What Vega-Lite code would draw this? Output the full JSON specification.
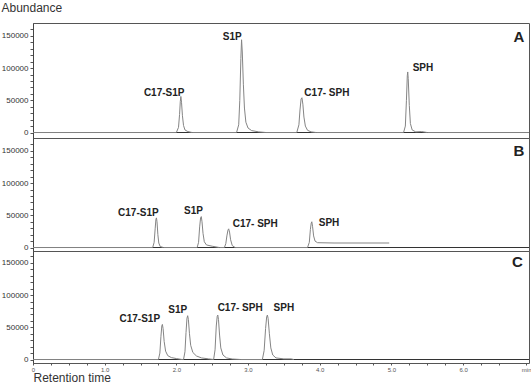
{
  "$schema": "https://vega.github.io/schema/vega-lite/v6.json",
  "padding": 0,
  "spacing": 0,
  "bounds": "flush",
  "background": "white",
  "config": {
    "view": {"stroke": "#555", "strokeWidth": 1},
    "concat": {"spacing": 0},
    "font": "Liberation Sans",
    "axis": {"grid": false, "labelFont": "Liberation Sans", "titleFont": "Liberation Sans", "labelColor": "#333", "tickColor": "#555", "domainColor": "#444"}
  },
  "datasets": {
    "baseline": [
      {"t": 0, "abundance": 0},
      {"t": 6.92, "abundance": 0}
    ],
    "trace": [
      {"panel": "A", "t": 0, "abundance": 0},
      {"panel": "A", "t": 2.0, "abundance": 0},
      {"panel": "A", "t": 2.03, "abundance": 8000},
      {"panel": "A", "t": 2.045, "abundance": 28000},
      {"panel": "A", "t": 2.055, "abundance": 48000},
      {"panel": "A", "t": 2.063, "abundance": 56000},
      {"panel": "A", "t": 2.072, "abundance": 47000},
      {"panel": "A", "t": 2.085, "abundance": 26000},
      {"panel": "A", "t": 2.1, "abundance": 11000},
      {"panel": "A", "t": 2.12, "abundance": 4000},
      {"panel": "A", "t": 2.16, "abundance": 1500},
      {"panel": "A", "t": 2.22, "abundance": 0},
      {"panel": "A", "t": 2.84, "abundance": 0},
      {"panel": "A", "t": 2.87, "abundance": 12000},
      {"panel": "A", "t": 2.885, "abundance": 50000},
      {"panel": "A", "t": 2.9, "abundance": 115000},
      {"panel": "A", "t": 2.91, "abundance": 144000},
      {"panel": "A", "t": 2.92, "abundance": 125000},
      {"panel": "A", "t": 2.935, "abundance": 75000},
      {"panel": "A", "t": 2.95, "abundance": 38000},
      {"panel": "A", "t": 2.97, "abundance": 16000},
      {"panel": "A", "t": 3.0, "abundance": 7000},
      {"panel": "A", "t": 3.05, "abundance": 3000},
      {"panel": "A", "t": 3.15, "abundance": 1000},
      {"panel": "A", "t": 3.25, "abundance": 0},
      {"panel": "A", "t": 3.68, "abundance": 0},
      {"panel": "A", "t": 3.71, "abundance": 12000},
      {"panel": "A", "t": 3.725, "abundance": 35000},
      {"panel": "A", "t": 3.74, "abundance": 52000},
      {"panel": "A", "t": 3.752, "abundance": 54000},
      {"panel": "A", "t": 3.765, "abundance": 44000},
      {"panel": "A", "t": 3.78, "abundance": 24000},
      {"panel": "A", "t": 3.8, "abundance": 10000},
      {"panel": "A", "t": 3.83, "abundance": 3500},
      {"panel": "A", "t": 3.88, "abundance": 1000},
      {"panel": "A", "t": 3.95, "abundance": 0},
      {"panel": "A", "t": 5.17, "abundance": 0},
      {"panel": "A", "t": 5.195, "abundance": 10000},
      {"panel": "A", "t": 5.21, "abundance": 50000},
      {"panel": "A", "t": 5.222, "abundance": 88000},
      {"panel": "A", "t": 5.228, "abundance": 94000},
      {"panel": "A", "t": 5.235, "abundance": 84000},
      {"panel": "A", "t": 5.25, "abundance": 42000},
      {"panel": "A", "t": 5.265, "abundance": 14000},
      {"panel": "A", "t": 5.29, "abundance": 4000},
      {"panel": "A", "t": 5.34, "abundance": 1000},
      {"panel": "A", "t": 5.42, "abundance": 1500},
      {"panel": "A", "t": 5.5, "abundance": 0},
      {"panel": "A", "t": 6.92, "abundance": 0},
      {"panel": "B", "t": 0, "abundance": 0},
      {"panel": "B", "t": 1.67, "abundance": 0},
      {"panel": "B", "t": 1.69, "abundance": 8000},
      {"panel": "B", "t": 1.705, "abundance": 30000},
      {"panel": "B", "t": 1.715, "abundance": 44000},
      {"panel": "B", "t": 1.722, "abundance": 46000},
      {"panel": "B", "t": 1.73, "abundance": 40000},
      {"panel": "B", "t": 1.742, "abundance": 20000},
      {"panel": "B", "t": 1.755, "abundance": 7000},
      {"panel": "B", "t": 1.775, "abundance": 1500},
      {"panel": "B", "t": 1.82, "abundance": 0},
      {"panel": "B", "t": 2.29, "abundance": 0},
      {"panel": "B", "t": 2.31, "abundance": 8000},
      {"panel": "B", "t": 2.325, "abundance": 32000},
      {"panel": "B", "t": 2.338, "abundance": 46000},
      {"panel": "B", "t": 2.348, "abundance": 48000},
      {"panel": "B", "t": 2.358, "abundance": 40000},
      {"panel": "B", "t": 2.372, "abundance": 22000},
      {"panel": "B", "t": 2.39, "abundance": 9000},
      {"panel": "B", "t": 2.42, "abundance": 4000},
      {"panel": "B", "t": 2.5, "abundance": 2000},
      {"panel": "B", "t": 2.6, "abundance": 0},
      {"panel": "B", "t": 2.67, "abundance": 0},
      {"panel": "B", "t": 2.69, "abundance": 6000},
      {"panel": "B", "t": 2.705, "abundance": 18000},
      {"panel": "B", "t": 2.72, "abundance": 27000},
      {"panel": "B", "t": 2.73, "abundance": 29000},
      {"panel": "B", "t": 2.742, "abundance": 24000},
      {"panel": "B", "t": 2.757, "abundance": 12000},
      {"panel": "B", "t": 2.78, "abundance": 3000},
      {"panel": "B", "t": 2.82, "abundance": 0},
      {"panel": "B", "t": 3.83, "abundance": 0},
      {"panel": "B", "t": 3.855, "abundance": 8000},
      {"panel": "B", "t": 3.87, "abundance": 28000},
      {"panel": "B", "t": 3.882, "abundance": 38000},
      {"panel": "B", "t": 3.89, "abundance": 40000},
      {"panel": "B", "t": 3.9, "abundance": 33000},
      {"panel": "B", "t": 3.915, "abundance": 18000},
      {"panel": "B", "t": 3.935, "abundance": 10000},
      {"panel": "B", "t": 3.97, "abundance": 7500},
      {"panel": "B", "t": 4.2, "abundance": 7000},
      {"panel": "B", "t": 4.97, "abundance": 7000},
      {"panel": "C", "t": 0, "abundance": 0},
      {"panel": "C", "t": 1.75, "abundance": 0},
      {"panel": "C", "t": 1.77, "abundance": 10000},
      {"panel": "C", "t": 1.785, "abundance": 36000},
      {"panel": "C", "t": 1.797, "abundance": 52000},
      {"panel": "C", "t": 1.805, "abundance": 54500},
      {"panel": "C", "t": 1.815, "abundance": 48000},
      {"panel": "C", "t": 1.83, "abundance": 28000},
      {"panel": "C", "t": 1.85, "abundance": 13000},
      {"panel": "C", "t": 1.88, "abundance": 6000},
      {"panel": "C", "t": 1.93, "abundance": 3000},
      {"panel": "C", "t": 2.0, "abundance": 1500},
      {"panel": "C", "t": 2.08, "abundance": 0},
      {"panel": "C", "t": 2.1, "abundance": 0},
      {"panel": "C", "t": 2.12, "abundance": 12000},
      {"panel": "C", "t": 2.135, "abundance": 42000},
      {"panel": "C", "t": 2.148, "abundance": 64000},
      {"panel": "C", "t": 2.158, "abundance": 68000},
      {"panel": "C", "t": 2.168, "abundance": 62000},
      {"panel": "C", "t": 2.183, "abundance": 40000},
      {"panel": "C", "t": 2.2, "abundance": 22000},
      {"panel": "C", "t": 2.23, "abundance": 11000},
      {"panel": "C", "t": 2.28, "abundance": 5500},
      {"panel": "C", "t": 2.35, "abundance": 2500},
      {"panel": "C", "t": 2.45, "abundance": 1000},
      {"panel": "C", "t": 2.52, "abundance": 0},
      {"panel": "C", "t": 2.54, "abundance": 15000},
      {"panel": "C", "t": 2.557, "abundance": 52000},
      {"panel": "C", "t": 2.57, "abundance": 67000},
      {"panel": "C", "t": 2.578, "abundance": 69000},
      {"panel": "C", "t": 2.588, "abundance": 62000},
      {"panel": "C", "t": 2.603, "abundance": 38000},
      {"panel": "C", "t": 2.62, "abundance": 18000},
      {"panel": "C", "t": 2.65, "abundance": 7000},
      {"panel": "C", "t": 2.7, "abundance": 2500},
      {"panel": "C", "t": 2.78, "abundance": 800},
      {"panel": "C", "t": 2.9, "abundance": 0},
      {"panel": "C", "t": 3.2, "abundance": 0},
      {"panel": "C", "t": 3.225, "abundance": 14000},
      {"panel": "C", "t": 3.245, "abundance": 48000},
      {"panel": "C", "t": 3.26, "abundance": 66000},
      {"panel": "C", "t": 3.27, "abundance": 69000},
      {"panel": "C", "t": 3.28, "abundance": 64000},
      {"panel": "C", "t": 3.298, "abundance": 40000},
      {"panel": "C", "t": 3.318, "abundance": 18000},
      {"panel": "C", "t": 3.345, "abundance": 7000},
      {"panel": "C", "t": 3.39, "abundance": 2500},
      {"panel": "C", "t": 3.5, "abundance": 1000},
      {"panel": "C", "t": 3.6, "abundance": 1000},
      {"panel": "C", "t": 3.64, "abundance": 0}
    ],
    "labels": [
      {"panel": "A", "t": 1.83, "abundance": 62000, "name": "C17-S1P"},
      {"panel": "A", "t": 2.78, "abundance": 148000, "name": "S1P"},
      {"panel": "A", "t": 4.1, "abundance": 62000, "name": "C17- SPH"},
      {"panel": "A", "t": 5.44, "abundance": 100000, "name": "SPH"},
      {"panel": "B", "t": 1.47, "abundance": 53000, "name": "C17-S1P"},
      {"panel": "B", "t": 2.24, "abundance": 56000, "name": "S1P"},
      {"panel": "B", "t": 3.1, "abundance": 36000, "name": "C17- SPH"},
      {"panel": "B", "t": 4.13, "abundance": 38000, "name": "SPH"},
      {"panel": "C", "t": 1.49, "abundance": 62600, "name": "C17-S1P"},
      {"panel": "C", "t": 2.02, "abundance": 76500, "name": "S1P"},
      {"panel": "C", "t": 2.89, "abundance": 79600, "name": "C17- SPH"},
      {"panel": "C", "t": 3.5, "abundance": 79600, "name": "SPH"}
    ],
    "letters": [
      {"panel": "A", "t": 6.78, "abundance": 148000, "name": "A"},
      {"panel": "B", "t": 6.78, "abundance": 150000, "name": "B"},
      {"panel": "C", "t": 6.76, "abundance": 152000, "name": "C"}
    ]
  },
  "vconcat": [
    {
      "width": 496,
      "height": 115,
      "encoding": {
        "x": {"field": "t", "type": "quantitative", "scale": {"domain": [0, 6.92], "nice": false, "zero": false}, "axis": null},
        "y": {"field": "abundance", "type": "quantitative", "scale": {"domain": [-8500, 170000], "nice": false, "zero": false},
          "axis": {"values": [0,10000,20000,30000,40000,50000,60000,70000,80000,90000,100000,110000,120000,130000,140000,150000,160000],
            "labelExpr": "datum.value % 50000 == 0 ? format(datum.value, 'd') : ''", "labelOverlap": false, "labelFontSize": 8, "tickSize": 3, "labelPadding": 2,
            "title": "Abundance", "titleAngle": 0, "titleAlign": "left", "titleBaseline": "alphabetic", "titleX": -32, "titleY": -12,
            "titleFontSize": 12, "titleFontWeight": "normal", "titleColor": "#333"}}
      },
      "layer": [
        {"data": {"name": "baseline"}, "mark": {"type": "line", "color": "#333", "strokeWidth": 1.2}},
        {"data": {"name": "trace"}, "transform": [{"filter": "datum.panel == 'A'"}], "mark": {"type": "line", "color": "#858585", "strokeWidth": 1}},
        {"data": {"name": "labels"}, "transform": [{"filter": "datum.panel == 'A'"}],
          "mark": {"type": "text", "fontWeight": "bold", "fontSize": 10, "color": "#222", "align": "center", "baseline": "middle"},
          "encoding": {"text": {"field": "name"}}},
        {"data": {"name": "letters"}, "transform": [{"filter": "datum.panel == 'A'"}],
          "mark": {"type": "text", "fontWeight": "bold", "fontSize": 15, "color": "#222", "align": "center", "baseline": "middle"},
          "encoding": {"text": {"field": "name"}}}
      ]
    },
    {
      "width": 496,
      "height": 113,
      "encoding": {
        "x": {"field": "t", "type": "quantitative", "scale": {"domain": [0, 6.92], "nice": false, "zero": false}, "axis": null},
        "y": {"field": "abundance", "type": "quantitative", "scale": {"domain": [-5400, 170000], "nice": false, "zero": false},
          "axis": {"values": [0,10000,20000,30000,40000,50000,60000,70000,80000,90000,100000,110000,120000,130000,140000,150000,160000],
            "labelExpr": "datum.value % 50000 == 0 ? format(datum.value, 'd') : ''", "labelOverlap": false, "labelFontSize": 8, "tickSize": 3, "labelPadding": 2, "title": null}}
      },
      "layer": [
        {"data": {"name": "baseline"}, "mark": {"type": "line", "color": "#333", "strokeWidth": 1.2}},
        {"data": {"name": "trace"}, "transform": [{"filter": "datum.panel == 'B'"}], "mark": {"type": "line", "color": "#858585", "strokeWidth": 1}},
        {"data": {"name": "labels"}, "transform": [{"filter": "datum.panel == 'B'"}],
          "mark": {"type": "text", "fontWeight": "bold", "fontSize": 10, "color": "#222", "align": "center", "baseline": "middle"},
          "encoding": {"text": {"field": "name"}}},
        {"data": {"name": "letters"}, "transform": [{"filter": "datum.panel == 'B'"}],
          "mark": {"type": "text", "fontWeight": "bold", "fontSize": 15, "color": "#222", "align": "center", "baseline": "middle"},
          "encoding": {"text": {"field": "name"}}}
      ]
    },
    {
      "width": 496,
      "height": 112,
      "encoding": {
        "x": {"field": "t", "type": "quantitative", "scale": {"domain": [0, 6.92], "nice": false, "zero": false},
          "axis": {"values": [0,0.25,0.5,0.75,1,1.25,1.5,1.75,2,2.25,2.5,2.75,3,3.25,3.5,3.75,4,4.25,4.5,4.75,5,5.25,5.5,5.75,6,6.25,6.5,6.88],
            "labelExpr": "datum.value == 0 ? '0' : (datum.value > 6.8 ? 'min' : (datum.value % 1 == 0 ? format(datum.value, '.1f') : ''))",
            "labelOverlap": false, "labelBound": false, "labelFlush": false, "labelFontSize": 6, "labelColor": "#555", "tickSize": 2, "labelPadding": 1, "domain": false,
            "title": "Retention time", "titleAnchor": "start", "titleAlign": "left", "titleBaseline": "alphabetic", "titleX": 0, "titleY": 18,
            "titleFontSize": 12, "titleFontWeight": "normal", "titleColor": "#333"}},
        "y": {"field": "abundance", "type": "quantitative", "scale": {"domain": [-5400, 168400], "nice": false, "zero": false},
          "axis": {"values": [0,10000,20000,30000,40000,50000,60000,70000,80000,90000,100000,110000,120000,130000,140000,150000,160000],
            "labelExpr": "datum.value % 50000 == 0 ? format(datum.value, 'd') : ''", "labelOverlap": false, "labelFontSize": 8, "tickSize": 3, "labelPadding": 2, "title": null}}
      },
      "layer": [
        {"data": {"name": "baseline"}, "mark": {"type": "line", "color": "#333", "strokeWidth": 1.2}},
        {"data": {"name": "trace"}, "transform": [{"filter": "datum.panel == 'C'"}], "mark": {"type": "line", "color": "#858585", "strokeWidth": 1}},
        {"data": {"name": "labels"}, "transform": [{"filter": "datum.panel == 'C'"}],
          "mark": {"type": "text", "fontWeight": "bold", "fontSize": 10, "color": "#222", "align": "center", "baseline": "middle"},
          "encoding": {"text": {"field": "name"}}},
        {"data": {"name": "letters"}, "transform": [{"filter": "datum.panel == 'C'"}],
          "mark": {"type": "text", "fontWeight": "bold", "fontSize": 15, "color": "#222", "align": "center", "baseline": "middle"},
          "encoding": {"text": {"field": "name"}}}
      ]
    }
  ]
}
